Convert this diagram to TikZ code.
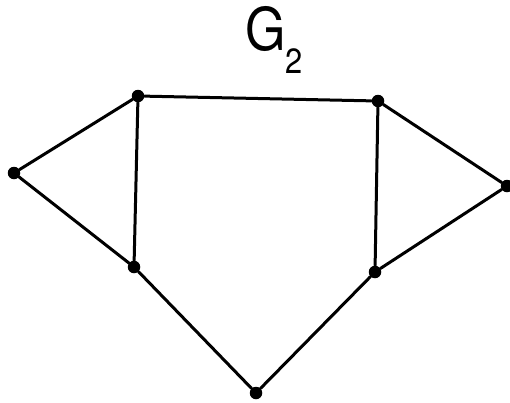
\documentclass[tikz,border=0pt]{standalone}
\usepackage{fontspec}
\setmainfont{TeX Gyre Heros}
\begin{document}
\begin{tikzpicture}[x=1pt,y=-1pt,
  vtx/.style={circle,fill=black,inner sep=0pt,minimum size=12.5pt},
  edge/.style={line width=3pt,line cap=round},
  lbl/.style={inner sep=0pt,anchor=base west}]
\useasboundingbox (0,0) rectangle (510,402);
\node[vtx] (a) at (14,173) {};
\node[vtx] (b) at (138,96) {};
\node[vtx] (c) at (378,101) {};
\node[vtx] (d) at (507,186) {};
\node[vtx] (e) at (134,267) {};
\node[vtx] (f) at (375,272) {};
\node[vtx] (g) at (256,393) {};
\draw[edge] (a) -- (b) -- (c) -- (d) -- (f) -- (g) -- (e) -- (a);
\draw[edge] (b) -- (e);
\draw[edge] (c) -- (f);
\node[lbl,xscale=0.88] (t) at (245,50) {\fontsize{59}{60}\selectfont G\raisebox{-23pt}{\fontsize{35}{35}\selectfont 2}};
\end{tikzpicture}
\end{document}
